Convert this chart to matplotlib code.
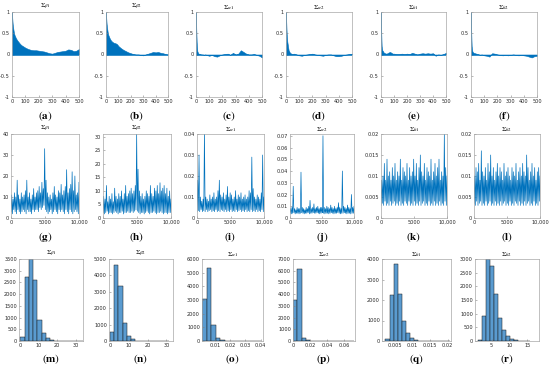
import numpy as np
import matplotlib
matplotlib.use('Agg')
import matplotlib.pyplot as plt

plt.rcParams['mathtext.fontset'] = 'stix'
plt.rcParams['font.family'] = ['DejaVu Sans']

W, H = 550, 368
BLUE = '#0072BD'

names = [r'\beta1', r'\beta2', r'\alpha1', r'\alpha2', r'h1', r'h2']
letters = 'abcdefghijklmnopqr'

# autocorrelation (row 1)
acf_lags = [0, 2, 5, 10, 15, 20, 30, 40, 50, 60, 70, 80, 90, 100, 120, 140, 160,
            180, 200, 220, 240, 260, 280, 300, 320, 340, 360, 380, 400, 420, 440,
            460, 480, 500]
acf_b1 = [1, 0.85, 0.72, 0.6, 0.5, 0.45, 0.38, 0.33, 0.29, 0.25, 0.22, 0.2, 0.18,
          0.16, 0.13, 0.11, 0.1, 0.1, 0.09, 0.08, 0.07, 0.05, 0.03, 0.02, 0.04,
          0.06, 0.07, 0.08, 0.09, 0.12, 0.11, 0.08, 0.09, 0.13]
acf_b2 = [1, 0.85, 0.72, 0.6, 0.5, 0.45, 0.38, 0.33, 0.3, 0.28, 0.27, 0.26, 0.24,
          0.2, 0.15, 0.11, 0.08, 0.05, 0.03, 0.01, 0.0, 0.0, -0.01, -0.02, 0.0,
          0.02, 0.04, 0.06, 0.05, 0.06, 0.04, 0.03, 0.01, 0.0]
acf_a1 = [1, 0.6, 0.3, 0.08, 0.04, 0.02, 0.01, 0.0, 0.0, -0.01, 0.0, -0.01, -0.02,
          -0.03, -0.01, -0.04, -0.05, -0.02, 0.0, 0.01, 0.02, -0.01, 0.04, 0.0,
          0.02, 0.1, 0.06, 0.02, 0.0, 0.0, 0.01, -0.01, -0.03, -0.07]
acf_a2 = [1, 0.75, 0.5, 0.3, 0.2, 0.1, 0.04, 0.02, 0.01, 0.02, 0.01, 0.0, -0.01,
          -0.02, -0.03, -0.01, 0.0, 0.01, 0.02, 0.0, -0.01, -0.02, -0.03, -0.01,
          0.0, 0.0, -0.02, -0.04, -0.04, -0.03, -0.01, 0.0, 0.01, 0.02]
acf_h1 = [1, 0.5, 0.2, 0.1, 0.08, 0.05, 0.03, 0.02, 0.03, 0.05, 0.06, 0.04, 0.02,
          0.02, 0.01, 0.01, 0.02, 0.01, 0.02, 0.01, 0.04, 0.02, 0.0, 0.02, 0.03,
          0.02, 0.03, 0.02, 0.03, -0.03, 0.0, -0.01, 0.01, 0.04]
acf_h2 = [1, 0.5, 0.2, 0.08, 0.05, 0.04, 0.03, 0.02, 0.01, 0.0, -0.01, 0.0, -0.01,
          -0.02, -0.03, -0.05, 0.03, 0.02, 0.0, -0.01, -0.02, -0.01, -0.02, -0.01,
          0.0, -0.01, -0.02, -0.01, -0.02, -0.03, -0.05, -0.07, -0.04, -0.03]
acfs = [acf_b1, acf_b2, acf_a1, acf_a2, acf_h1, acf_h2]

# traces (row 2): alternating low / high readings every 200 iterations
tr_b1_hi = [11, 9, 12, 10, 18, 11, 9, 12, 10, 11, 13, 18, 10, 12, 9, 11, 14, 10, 12, 13,
            15, 12, 17, 14, 33, 18, 12, 10, 11, 9, 12, 15, 11, 10, 13, 12, 16, 11, 13, 15,
            23, 12, 14, 16, 22, 13, 20, 11, 12, 17]
tr_b1_lo = [3, 2, 4, 3, 2, 4, 3, 2, 3, 4, 3, 2, 4, 3, 3, 2, 4, 3, 4, 4, 3, 5, 4, 5, 6,
            4, 3, 2, 3, 4, 2, 3, 4, 3, 2, 4, 3, 4, 3, 2, 4, 3, 2, 4, 3, 2, 3, 4, 3, 2]
tr_b2_hi = [8, 7, 12, 6, 8, 7, 9, 6, 11, 8, 7, 9, 8, 10, 7, 9, 12, 8, 9, 10, 11, 9, 10,
            12, 31, 18, 10, 8, 9, 7, 8, 10, 9, 8, 12, 9, 8, 11, 10, 12, 9, 13, 10, 11,
            12, 9, 11, 8, 10, 7]
tr_b2_lo = [2, 1.5, 2, 2.5, 1.5, 2, 2, 1.5, 2, 2.5, 2, 1.5, 2, 2, 2.5, 1.5, 2, 2, 2.5,
            2, 2, 2.5, 2, 2.5, 3, 2.5, 2, 1.5, 2, 2, 1.5, 2, 2.5, 2, 1.5, 2, 2, 2.5, 2,
            1.5, 2, 2, 2.5, 2, 1.5, 2, 2, 1.5, 2, 2]
# alpha / h traces in units of 1e-3
tr_a1_hi = [18, 30, 10, 8, 9, 41, 10, 9, 8, 11, 9, 10, 12, 9, 10, 13, 18, 11, 10, 12,
            9, 11, 15, 10, 12, 11, 9, 10, 13, 9, 11, 10, 12, 9, 10, 11, 9, 10, 13, 12,
            29, 14, 10, 9, 11, 10, 9, 12, 30, 10]
tr_a1_lo = [3, 3.5, 3, 4, 3, 3.5, 3, 4, 3, 3.5, 4, 3, 3.5, 3, 4, 3, 3.5, 3, 4, 3.5, 3,
            4, 3, 3.5, 3, 4, 3, 3.5, 3, 4, 3, 3.5, 4, 3, 3.5, 3, 4, 3, 3.5, 3, 4, 3,
            3.5, 3, 4, 3, 3.5, 3, 4, 3]
tr_a2_hi = [8, 9, 27, 8, 7, 9, 8, 8, 39, 9, 8, 7, 9, 8, 10, 15, 8, 9, 12, 8, 9, 10, 8,
            9, 9, 70, 9, 8, 10, 9, 8, 11, 9, 8, 10, 8, 9, 13, 9, 8, 40, 10, 9, 8, 11, 9,
            8, 20, 9, 10]
tr_a2_lo = [4, 3.5, 4, 4.5, 3.5, 4, 4, 3.5, 4, 4.5, 4, 3.5, 4, 4, 4.5, 3.5, 4, 4, 4.5,
            4, 4, 4.5, 4, 3.5, 4, 4.5, 4, 3.5, 4, 4, 3.5, 4, 4.5, 4, 3.5, 4, 4, 4.5, 4,
            3.5, 4, 4, 4.5, 4, 3.5, 4, 4, 3.5, 4, 4]
tr_h1_hi = [9, 10, 13, 9, 14, 10, 11, 9, 12, 10, 13, 9, 11, 10, 14, 9, 12, 11, 10, 13,
            9, 12, 10, 11, 14, 10, 13, 9, 12, 15, 11, 10, 13, 9, 12, 11, 10, 14, 9, 11,
            13, 10, 12, 14, 9, 11, 10, 20, 12, 10]
tr_h1_lo = [3, 3.5, 3, 4, 3, 3.5, 3, 4, 3, 3.5, 4, 3, 3.5, 3, 4, 3, 3.5, 3, 4, 3.5, 3,
            4, 3, 3.5, 3, 4, 3, 3.5, 3, 4, 3, 3.5, 4, 3, 3.5, 3, 4, 3, 3.5, 3, 4, 3,
            3.5, 3, 4, 3, 3.5, 3, 4, 3]
tr_h2_hi = [10, 12, 11, 13, 9, 16, 11, 10, 12, 9, 13, 11, 15, 10, 12, 9, 11, 13, 10, 12,
            11, 9, 13, 10, 11, 12, 10, 9, 12, 11, 10, 13, 9, 11, 12, 10, 13, 11, 10, 15,
            12, 9, 11, 13, 10, 12, 9, 11, 12, 10]
tr_h2_lo = [3.5, 3, 4, 3, 3.5, 4, 3, 3.5, 3, 4, 3, 3.5, 4, 3, 3.5, 3, 4, 3, 3.5, 3, 4,
            3, 3.5, 4, 3, 3.5, 3, 4, 3, 3.5, 3, 4, 3.5, 3, 4, 3, 3.5, 3, 4, 3, 3.5, 4,
            3, 3.5, 3, 4, 3, 3.5, 3, 4]
traces = [(tr_b1_lo, tr_b1_hi, 1), (tr_b2_lo, tr_b2_hi, 1),
          (tr_a1_lo, tr_a1_hi, 1e-3), (tr_a2_lo, tr_a2_hi, 1e-3),
          (tr_h1_lo, tr_h1_hi, 1e-3), (tr_h2_lo, tr_h2_hi, 1e-3)]
trace_ylim = [40, 31, 0.04, 0.0715, 0.02, 0.02]
trace_yticks = [[0, 10, 20, 30, 40], [0, 5, 10, 15, 20, 25, 30],
                [0, 0.01, 0.02, 0.03, 0.04],
                [0, 0.01, 0.02, 0.03, 0.04, 0.05, 0.06, 0.07],
                [0, 0.005, 0.01, 0.015, 0.02], [0, 0.005, 0.01, 0.015, 0.02]]

# histograms (row 3): first edge, bin width, counts
hist_start = [0, 0, 0.0015, 0, 0.0022, 1.3]
hist_width = [2.3, 2.25, 0.003, 0.0048, 0.00116, 1.1]
hist_b1 = [150, 2740, 3500, 2600, 910, 350, 140, 30, 10, 5, 3, 2, 2, 1, 1]
hist_b2 = [555, 4660, 3330, 1090, 300, 100, 20, 8, 4, 2, 1, 1, 1, 1]
hist_a1 = [3100, 5330, 1160, 240, 50, 10, 5, 3, 2, 1, 1, 1, 1]
hist_a2 = [3490, 6140, 260, 50, 20, 15, 10, 5, 3, 2, 2, 1, 1, 1, 1]
hist_h1 = [100, 2250, 3760, 2290, 1000, 380, 160, 70, 20, 10, 5, 3, 2, 1, 1, 1]
hist_h2 = [30, 930, 3000, 2730, 1710, 840, 410, 200, 85, 30, 10, 5, 3]
hists = [hist_b1, hist_b2, hist_a1, hist_a2, hist_h1, hist_h2]
hist_xlim = [(-0.7, 34), (-0.5, 33.5), (0.0015, 0.0415), (-0.0005, 0.073),
             (0.0012, 0.021), (0.4, 18.2)]
hist_xticks = [[0, 10, 20, 30], [0, 10, 20, 30], [0.01, 0.02, 0.03, 0.04],
               [0, 0.02, 0.04, 0.06], [0.005, 0.01, 0.015, 0.02], [5, 10, 15]]
hist_ylim = [3500, 5000, 6000, 7000, 4000, 3000]
hist_ystep = [500, 1000, 1000, 1000, 1000, 500]

# panel boxes in pixels: left, right
row_x = [
    [(12, 79), (106, 168), (196, 262), (286, 352), (381, 446), (471, 537)],
    [(11, 79), (103, 171), (197, 264), (290, 354), (381, 447), (474, 540)],
    [(19, 83), (109, 173), (202, 263), (293, 355), (382, 451), (475, 539)],
]
row_y = [(12, 97), (134, 218), (259, 341)]
label_y = [116, 237, 359]

fig = plt.figure(figsize=(W / 100, H / 100), dpi=100)


def make_ax(r, c):
    (x0, x1), (y0, y1) = row_x[r][c], row_y[r]
    ax = fig.add_axes([x0 / W, 1 - y1 / H, (x1 - x0) / W, (y1 - y0) / H])
    for s in ax.spines.values():
        s.set_color('#a6a6a6')
        s.set_linewidth(0.5)
    ax.tick_params(direction='in', length=1.5, width=0.4, color='#808080',
                   labelsize=3.6, pad=1.5, labelcolor='#262626')
    ax.set_title(r'$\Sigma_{%s}$' % names[c], fontsize=5, pad=0.8)
    fig.text((x0 + x1) / 2 / W, 1 - label_y[r] / H,
             r'$(\mathbf{%s})$' % letters[r * 6 + c],
             ha='center', va='center', fontsize=8)
    return ax


for c in range(6):
    ax = make_ax(0, c)
    ax.fill_between(acf_lags, acfs[c], 0, color=BLUE, lw=0.4)
    ax.plot([0, 500], [0, 0], color=BLUE, lw=0.5)
    ax.set_xlim(0, 500)
    ax.set_ylim(-1, 1)
    ax.set_xticks([0, 100, 200, 300, 400, 500])
    ax.set_yticks([-1, -0.5, 0, 0.5, 1])
    ax.set_yticklabels(['-1', '-0.5', '0', '0.5', '1'])

for c in range(6):
    ax = make_ax(1, c)
    lo, hi, sc = traces[c]
    vals = np.column_stack((lo, hi)).ravel() * sc
    its = np.linspace(0, 10000, len(vals))
    ax.plot(its, vals, color=BLUE, lw=0.5)
    ax.set_xlim(0, 10000)
    ax.set_ylim(0, trace_ylim[c])
    ax.set_xticks([0, 5000, 10000])
    ax.set_xticklabels(['0', '5000', '10,000'])
    ax.set_yticks(trace_yticks[c])
    ax.set_yticklabels(['%g' % v for v in trace_yticks[c]])

for c in range(6):
    ax = make_ax(2, c)
    counts = hists[c]
    edges = hist_start[c] + hist_width[c] * np.arange(len(counts))
    ax.bar(edges, counts, width=hist_width[c], align='edge', color='#5a9bd0',
           edgecolor='#1a1a1a', lw=0.35)
    ax.set_xlim(*hist_xlim[c])
    ax.set_ylim(0, hist_ylim[c])
    ax.set_xticks(hist_xticks[c])
    ax.set_xticklabels(['%g' % v for v in hist_xticks[c]])
    ax.set_yticks(np.arange(0, hist_ylim[c] + 1, hist_ystep[c]))

fig.savefig('out.png', dpi=100)
